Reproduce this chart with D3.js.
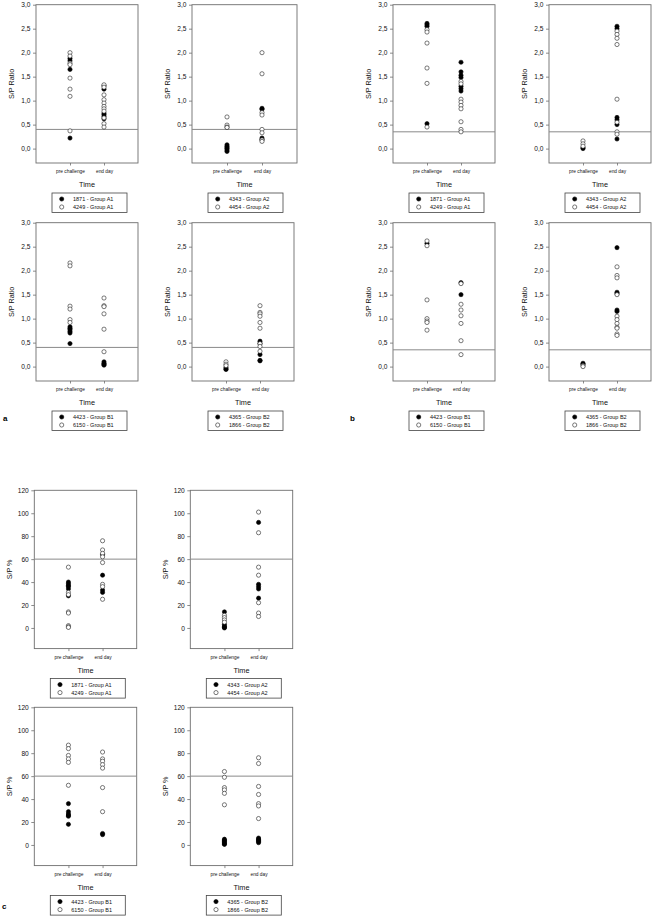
<!DOCTYPE html>
<html>
<head>
<meta charset="utf-8">
<script src="https://cdn.jsdelivr.net/npm/d3@7"></script>
<style>
  html, body { margin: 0; padding: 0; background: #fff; }
  svg { display: block; font-family: "Liberation Sans", Arial, sans-serif; }
</style>
</head>
<body>
<svg id="chart" width="654" height="919"></svg>
<script>
// ---------- data ----------
const categories = ["pre challenge", "end day"];
const ratioTicks = [0, 0.5, 1, 1.5, 2, 2.5, 3];
const ratioTickLabels = ["0,0", "0,5", "1,0", "1,5", "2,0", "2,5", "3,0"];
const percentTicks = [0, 20, 40, 60, 80, 100, 120];
const percentTickLabels = ["0", "20", "40", "60", "80", "100", "120"];

// each series: [pre challenge values, end day values]
const a_A1_1871 = [[1.88, 1.83, 1.65, 0.22], [1.31, 1.24, 0.74, 0.71, 0.67, 0.62]];
const a_A1_4249 = [[2.0, 1.93, 1.78, 1.75, 1.47, 1.24, 1.09, 0.37], [1.33, 1.28, 1.12, 1.02, 0.95, 0.88, 0.83, 0.78, 0.64, 0.52, 0.45]];
const a_A2_4343 = [[0.08, 0.05, 0.02, 0.0, -0.03, -0.06], [0.84, 0.82, 0.22, 0.19]];
const a_A2_4454 = [[0.66, 0.49, 0.45, 0.44], [2.0, 1.56, 0.75, 0.7, 0.4, 0.33, 0.18, 0.15]];
const b_A1_1871 = [[2.61, 2.58, 2.55, 0.52], [1.8, 1.6, 1.53, 1.48, 1.3, 1.25, 1.2]];
const b_A1_4249 = [[2.48, 2.43, 2.2, 1.68, 1.36, 0.45], [1.4, 1.35, 1.03, 0.97, 0.9, 0.83, 0.56, 0.4, 0.35]];
const b_A2_4343 = [[0.02, 0.0], [2.55, 2.5, 0.65, 0.6, 0.5, 0.2]];
const b_A2_4454 = [[0.16, 0.1, 0.05], [2.45, 2.38, 2.3, 2.17, 1.03, 0.55, 0.35, 0.3]];
const a_B1_4423 = [[0.83, 0.8, 0.77, 0.73, 0.7, 0.48], [0.1, 0.07, 0.05, 0.03]];
const a_B1_6150 = [[2.16, 2.1, 1.26, 1.2, 0.98, 0.92], [1.43, 1.27, 1.25, 1.1, 0.78, 0.31]];
const a_B2_4365 = [[-0.02, -0.05, -0.06], [0.53, 0.48, 0.25, 0.13, 0.12]];
const a_B2_1866 = [[0.1, 0.05, 0.02], [1.27, 1.13, 1.1, 1.05, 0.92, 0.8, 0.48, 0.42, 0.32]];
const b_B1_4423 = [[2.57], [1.75, 1.5]];
const b_B1_6150 = [[2.62, 2.52, 1.39, 1.0, 0.95, 0.92, 0.76], [1.73, 1.3, 1.18, 1.06, 0.9, 0.54, 0.25]];
const b_B2_4365 = [[0.07, 0.05], [2.48, 1.55, 1.52, 1.18, 1.15]];
const b_B2_1866 = [[0.02, 0.0], [2.08, 1.9, 1.85, 1.5, 1.05, 0.98, 0.9, 0.82, 0.8, 0.68, 0.65]];
const c_A1_1871 = [[40, 38.5, 37, 36, 34, 28], [64, 46, 33, 31]];
const c_A1_4249 = [[53, 31, 29, 14, 13, 2, 1, 0.5], [76, 68, 65, 62, 57, 38, 36, 25]];
const c_A2_4343 = [[14, 3, 1.5, 0.5, 0], [92, 38, 36, 34, 26]];
const c_A2_4454 = [[11, 9, 7, 5], [101, 83, 53, 46, 22, 13, 10]];
const c_B1_4423 = [[36, 29, 27, 26, 25, 18], [10, 9]];
const c_B1_6150 = [[87, 84, 78, 75, 72, 52], [81, 75, 73, 70, 67, 50, 29]];
const c_B2_4365 = [[5, 4, 3, 2, 1, 0.5], [6, 5, 4, 3, 2]];
const c_B2_1866 = [[64, 59, 50, 48, 45, 35], [76, 71, 51, 44, 36, 34, 23]];

const legendA1 = ["1871 - Group A1", "4249 - Group A1"];
const legendA2 = ["4343 - Group A2", "4454 - Group A2"];
const legendB1 = ["4423 - Group B1", "6150 - Group B1"];
const legendB2 = ["4365 - Group B2", "1866 - Group B2"];
const thresholds = { a: 0.4, b: 0.35, c: 60 };

// ---------- layout ----------
const H = 158.3;
const ratioDomain = [-0.3, 3.0];
const pctDomain = [-18, 120];
const panels = [
  { left: 36,    top: 4.7,   w: 102, kind: "ratio", thr: thresholds.a, filled: a_A1_1871, open: a_A1_4249, legend: legendA1 },
  { left: 192,   top: 4.7,   w: 105, kind: "ratio", thr: thresholds.a, filled: a_A2_4343, open: a_A2_4454, legend: legendA2 },
  { left: 393,   top: 4.7,   w: 102, kind: "ratio", thr: thresholds.b, filled: b_A1_1871, open: b_A1_4249, legend: legendA1 },
  { left: 549,   top: 4.7,   w: 102, kind: "ratio", thr: thresholds.b, filled: b_A2_4343, open: b_A2_4454, legend: legendA2 },
  { left: 36,    top: 222.7, w: 102, kind: "ratio", thr: thresholds.a, filled: a_B1_4423, open: a_B1_6150, legend: legendB1 },
  { left: 192,   top: 222.7, w: 102, kind: "ratio", thr: thresholds.a, filled: a_B2_4365, open: a_B2_1866, legend: legendB2 },
  { left: 393,   top: 222.7, w: 102, kind: "ratio", thr: thresholds.b, filled: b_B1_4423, open: b_B1_6150, legend: legendB1 },
  { left: 549,   top: 222.7, w: 102, kind: "ratio", thr: thresholds.b, filled: b_B2_4365, open: b_B2_1866, legend: legendB2 },
  { left: 34.3,  top: 490.3, w: 102.4, kind: "pct", thr: thresholds.c, filled: c_A1_1871, open: c_A1_4249, legend: legendA1 },
  { left: 190.3, top: 490.3, w: 102.4, kind: "pct", thr: thresholds.c, filled: c_A2_4343, open: c_A2_4454, legend: legendA2 },
  { left: 34.3,  top: 707.3, w: 102.4, kind: "pct", thr: thresholds.c, filled: c_B1_4423, open: c_B1_6150, legend: legendB1 },
  { left: 190.3, top: 707.3, w: 102.4, kind: "pct", thr: thresholds.c, filled: c_B2_4365, open: c_B2_1866, legend: legendB2 }
];

const svg = d3.select("#chart");
const FRAME = "#6e6e6e";
const R = 2.1;

panels.forEach(p => {
  const g = svg.append("g").attr("transform", `translate(${p.left},${p.top})`);
  const isRatio = p.kind === "ratio";
  const y = d3.scaleLinear().domain(isRatio ? ratioDomain : pctDomain).range([H, 0]);
  const x = d3.scalePoint().domain(categories).range([0, p.w]).padding(1);
  const ticks = isRatio ? ratioTicks : percentTicks;
  const labels = isRatio ? ratioTickLabels : percentTickLabels;

  // y axis
  const yAxis = d3.axisLeft(y).tickValues(ticks)
    .tickFormat((d, i) => labels[i]).tickSize(3).tickSizeOuter(0).tickPadding(2.5);
  const ya = g.append("g").call(yAxis);
  ya.select(".domain").remove();
  ya.selectAll("line").attr("stroke", FRAME).attr("stroke-width", 0.8);
  ya.selectAll("text").attr("font-size", 6.6).attr("fill", "#111")
    .attr("font-family", "Liberation Sans, Arial, sans-serif");

  // x axis
  const xAxis = d3.axisBottom(x).tickSize(2.5).tickSizeOuter(0).tickPadding(4);
  const xa = g.append("g").attr("transform", `translate(0,${H})`).call(xAxis);
  xa.select(".domain").remove();
  xa.selectAll("line").attr("stroke", FRAME).attr("stroke-width", 0.8);
  xa.selectAll("text").attr("font-size", 4.8).attr("fill", "#111")
    .attr("font-family", "Liberation Sans, Arial, sans-serif");

  // frame
  g.append("rect").attr("x", 0).attr("y", 0).attr("width", p.w).attr("height", H)
    .attr("fill", "none").attr("stroke", FRAME).attr("stroke-width", 0.9);

  // threshold line
  g.append("line").attr("x1", 0).attr("x2", p.w)
    .attr("y1", y(p.thr)).attr("y2", y(p.thr))
    .attr("stroke", "#8a8a8a").attr("stroke-width", 1);

  // points: filled series first, open series on top
  const pts = (series) => series.flatMap((vals, i) => vals.map(v => ({ c: categories[i], v })));
  g.append("g").selectAll("circle").data(pts(p.filled)).join("circle")
    .attr("cx", d => x(d.c)).attr("cy", d => y(d.v)).attr("r", R)
    .attr("fill", "#000").attr("stroke", "#000").attr("stroke-width", 0.6);
  g.append("g").selectAll("circle").data(pts(p.open)).join("circle")
    .attr("cx", d => x(d.c)).attr("cy", d => y(d.v)).attr("r", R)
    .attr("fill", "#fff").attr("stroke", "#222").attr("stroke-width", 0.6);

  // axis titles
  g.append("text").attr("x", p.w / 2).attr("y", H + 24.5).attr("text-anchor", "middle")
    .attr("font-size", 7.3).attr("fill", "#111").text("Time");
  g.append("text").attr("transform", `translate(-22,${H / 2}) rotate(-90)`)
    .attr("text-anchor", "middle").attr("font-size", 7.2).attr("fill", "#111")
    .text(isRatio ? "S/P Ratio" : "S/P %");

  // legend
  const lg = g.append("g").attr("transform", `translate(16,${H + 30})`);
  lg.append("rect").attr("width", 75).attr("height", 19.5)
    .attr("fill", "#fff").attr("stroke", "#444").attr("stroke-width", 0.8);
  p.legend.forEach((lab, i) => {
    const cy = 6 + i * 8;
    lg.append("circle").attr("cx", 9.7).attr("cy", cy).attr("r", R)
      .attr("fill", i === 0 ? "#000" : "#fff").attr("stroke", i === 0 ? "#000" : "#222").attr("stroke-width", 0.6);
    lg.append("text").attr("x", 21).attr("y", cy + 2).attr("font-size", 5.5).attr("fill", "#111").text(lab);
  });
});

// panel letters
svg.append("text").attr("x", 3).attr("y", 421).attr("font-size", 8).attr("font-weight", "bold").text("a");
svg.append("text").attr("x", 350).attr("y", 421).attr("font-size", 8).attr("font-weight", "bold").text("b");
svg.append("text").attr("x", 2).attr("y", 909).attr("font-size", 8).attr("font-weight", "bold").text("c");
</script>
</body>
</html>
